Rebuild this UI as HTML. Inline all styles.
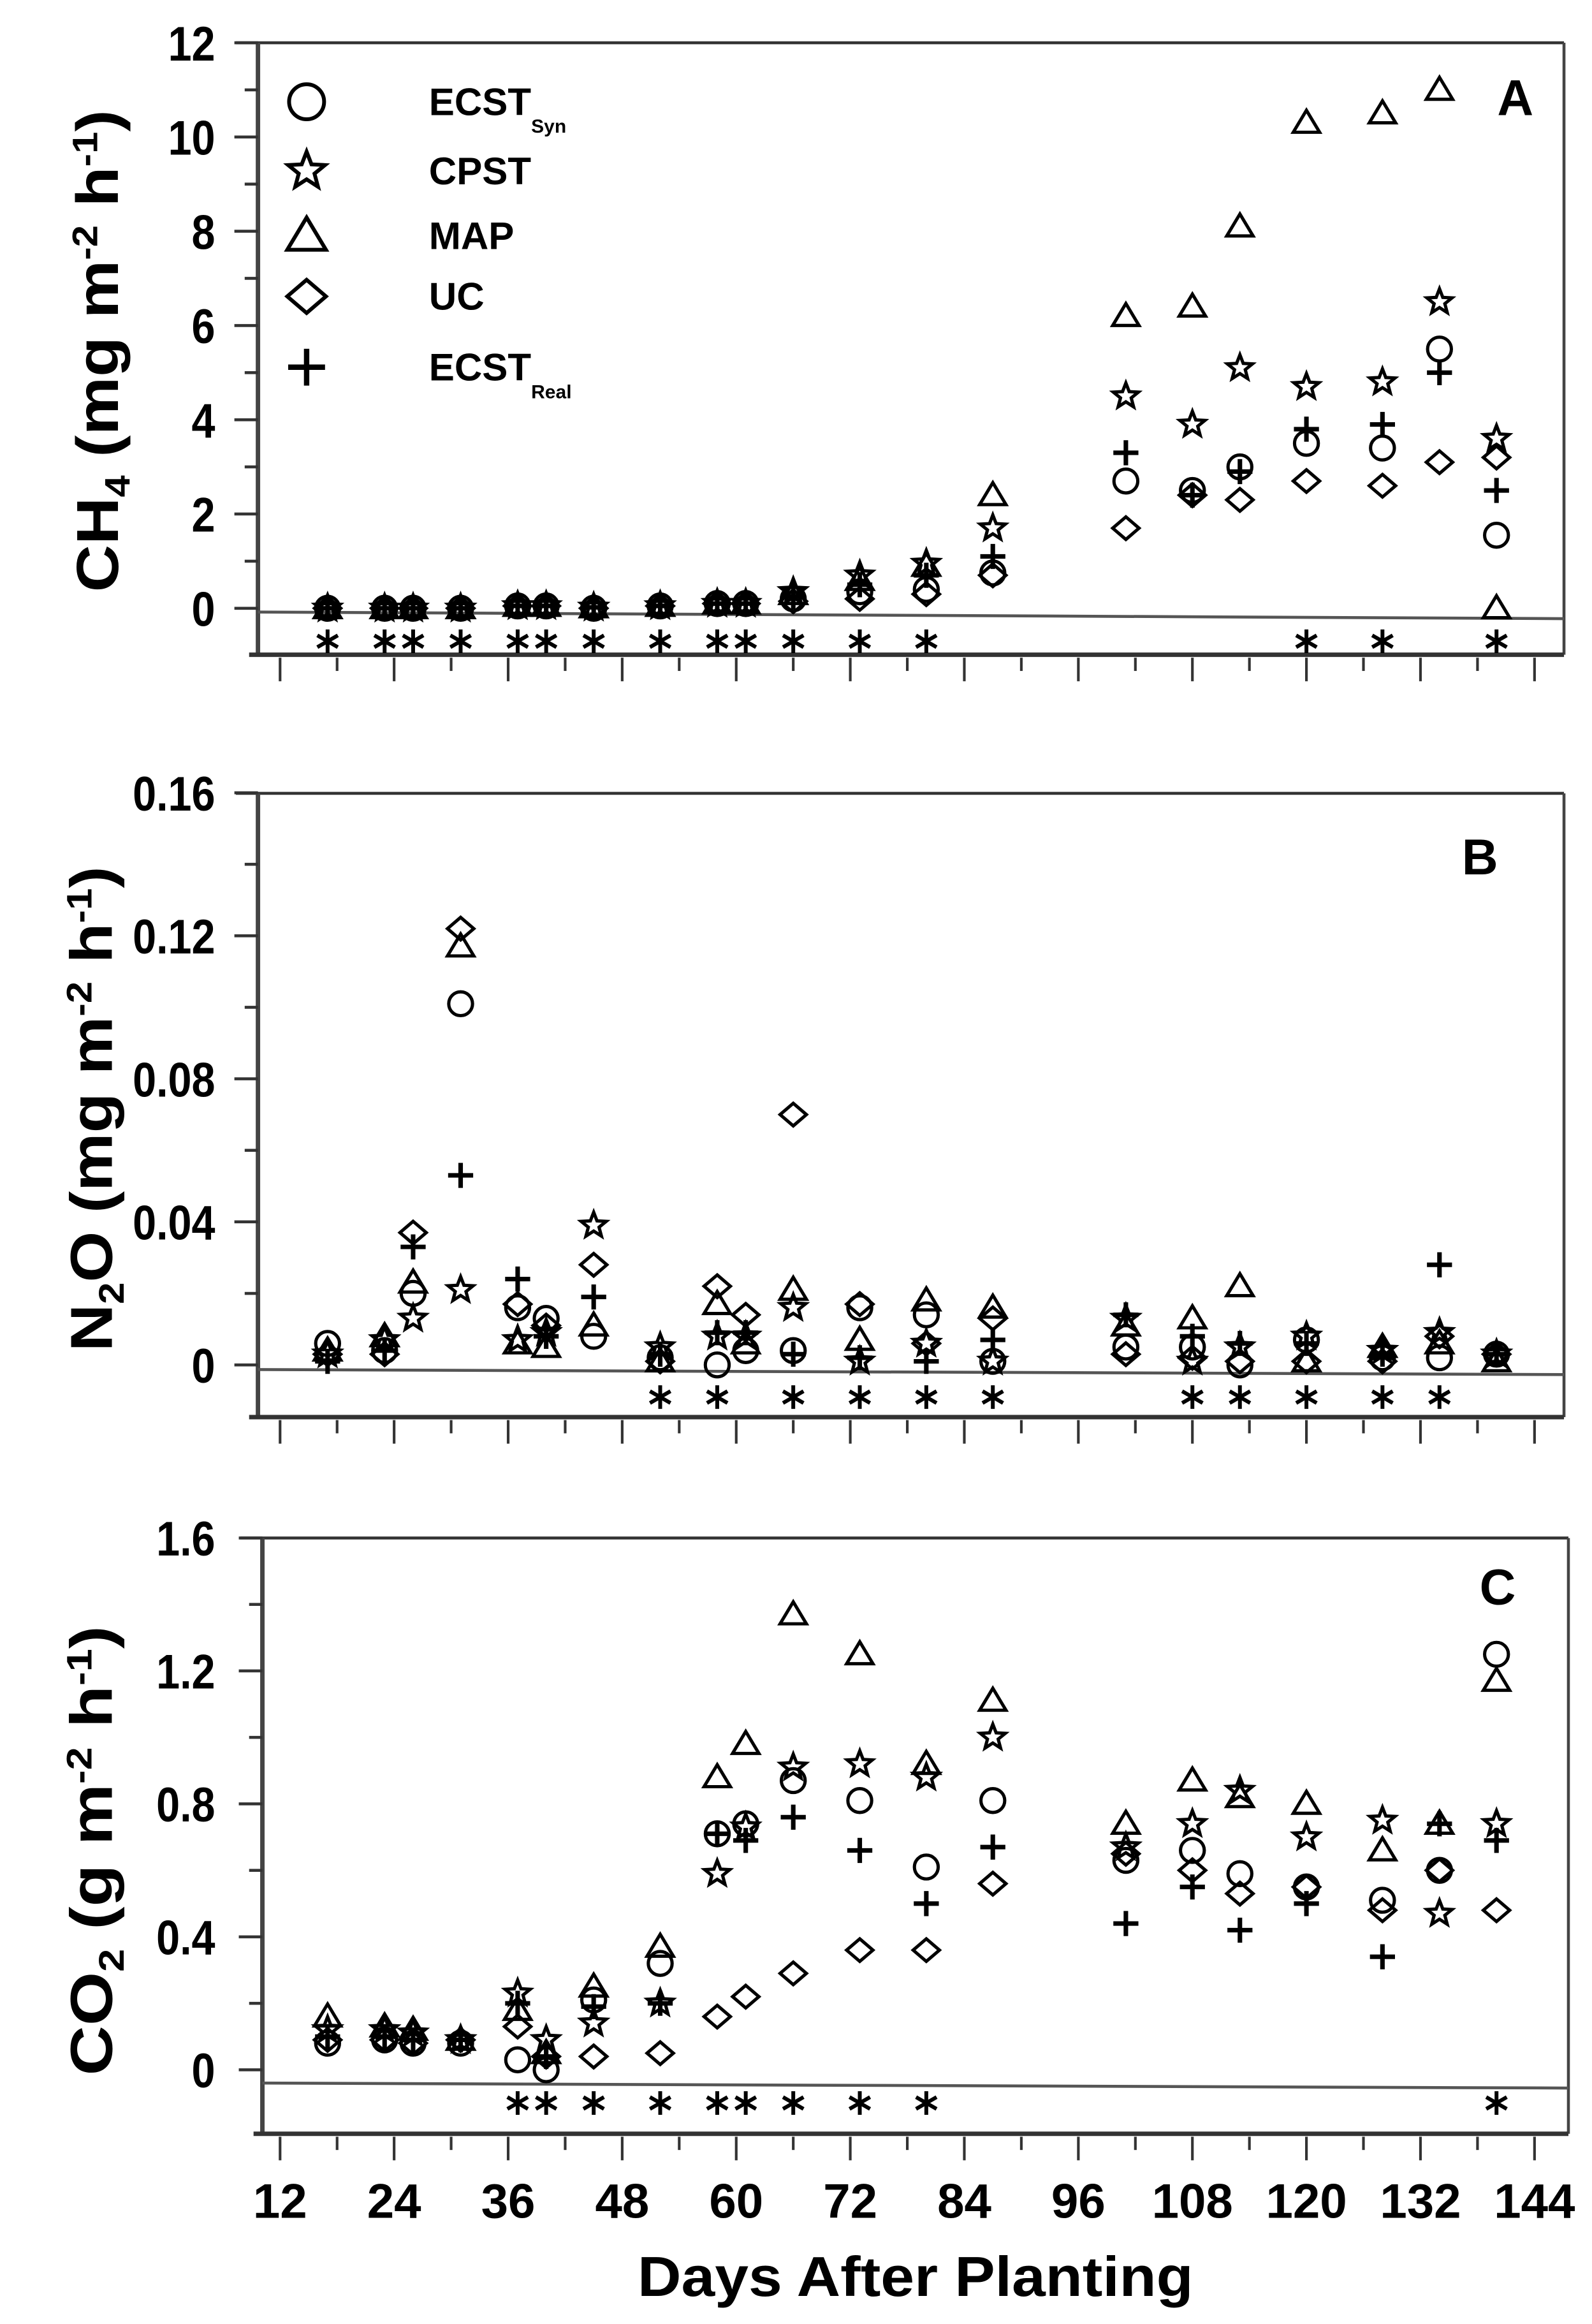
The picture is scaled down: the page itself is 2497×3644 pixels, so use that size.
<!DOCTYPE html>
<html><head><meta charset="utf-8"><title>CH4 N2O CO2 fluxes</title>
<style>
html,body{margin:0;padding:0;background:#fff;}
svg{display:block;}
text{font-family:"Liberation Sans",Arial,sans-serif;font-weight:bold;fill:#000;}
</style></head>
<body>
<svg id="chart" xmlns="http://www.w3.org/2000/svg" width="2497" height="3644" viewBox="0 0 1080 1576" preserveAspectRatio="none">
<rect x="0" y="0" width="1080" height="1576" fill="#fff"/>
<g id="frames"></g>
<g id="marks"></g>
<text x="621" y="1557" font-size="38" text-anchor="middle" textLength="377" lengthAdjust="spacingAndGlyphs">Days After Planting</text>
<text transform="translate(80,238) rotate(-90)" font-size="40" text-anchor="middle" textLength="327" lengthAdjust="spacingAndGlyphs">CH<tspan font-size="24" dy="8">4</tspan><tspan dy="-8"> (mg m</tspan><tspan font-size="24" dy="-14">-2</tspan><tspan dy="14"> h</tspan><tspan font-size="24" dy="-14">-1</tspan><tspan dy="14">)</tspan></text>
<text transform="translate(76,752) rotate(-90)" font-size="40" text-anchor="middle" textLength="329" lengthAdjust="spacingAndGlyphs">N<tspan font-size="24" dy="8">2</tspan><tspan dy="-8">O (mg m</tspan><tspan font-size="24" dy="-14">-2</tspan><tspan dy="14"> h</tspan><tspan font-size="24" dy="-14">-1</tspan><tspan dy="14">)</tspan></text>
<text transform="translate(76,1255) rotate(-90)" font-size="40" text-anchor="middle" textLength="305" lengthAdjust="spacingAndGlyphs">CO<tspan font-size="24" dy="8">2</tspan><tspan dy="-8"> (g m</tspan><tspan font-size="24" dy="-14">-2</tspan><tspan dy="14"> h</tspan><tspan font-size="24" dy="-14">-1</tspan><tspan dy="14">)</tspan></text>
<text x="1028" y="78" font-size="34" text-anchor="middle">A</text>
<text x="1004" y="593" font-size="34" text-anchor="middle">B</text>
<text x="1016" y="1088" font-size="34" text-anchor="middle">C</text>
<g id="legend"></g>
</svg>
<script>
const NS = "http://www.w3.org/2000/svg";
const days = [17,23,26,31,37,40,45,52,58,61,66,73,80,87,101,108,113,120,128,134,140];
const xTicks = [12,24,36,48,60,72,84,96,108,120,132,144];

const ch4Ecst = [0,0,0,0,0.05,0.05,0,0.05,0.1,0.1,0.2,0.35,0.4,0.75,2.7,2.5,3.0,3.5,3.4,5.5,1.55];
const ch4Cpst = [0,0,0,0,0.05,0.05,0.02,0.05,0.1,0.1,0.35,0.7,0.95,1.7,4.5,3.9,5.1,4.7,4.8,6.5,3.6];
const ch4Map  = [0,0,0,0,0.05,0.05,0.02,0.05,0.1,0.1,0.3,0.6,0.9,2.4,6.2,6.4,8.1,10.3,10.5,11.0,0];
const ch4Uc   = [0,0,0,0,0.05,0.05,0,0.05,0.1,0.1,0.15,0.2,0.3,0.7,1.7,2.4,2.3,2.7,2.6,3.1,3.2];
const ch4Real = [0,0,0,0,0.05,0.05,0.02,0.05,0.1,0.1,0.25,0.5,0.7,1.1,3.3,2.4,2.9,3.8,3.9,5.0,2.5];
const ch4Sig  = [17,23,26,31,37,40,45,52,58,61,66,73,80,120,128,140];

const n2oEcst = [0.006,0.004,0.020,0.101,0.016,0.013,0.008,0.002,0.000,0.004,0.004,0.016,0.014,0.001,0.005,0.005,0.000,0.007,0.002,0.002,0.003];
const n2oCpst = [0.003,0.007,0.013,0.021,0.007,0.009,0.039,0.005,0.008,0.008,0.016,0.001,0.006,0.001,0.013,0.001,0.005,0.008,0.004,0.009,0.003];
const n2oMap  = [0.004,0.008,0.023,0.117,0.006,0.005,0.011,0.001,0.017,0.006,0.021,0.007,0.018,0.016,0.011,0.013,0.022,0.001,0.005,0.006,0.001];
const n2oUc   = [0.003,0.003,0.037,0.122,0.017,0.011,0.028,0.001,0.022,0.014,0.070,0.017,0.006,0.013,0.003,0.002,0.001,0.001,0.001,0.008,0.003];
const n2oReal = [0.001,0.004,0.033,0.053,0.024,0.008,0.019,0.003,0.009,0.009,0.003,0.002,0.001,0.007,0.014,0.008,0.006,0.006,0.003,0.028,0.003];
const n2oSig  = [52,58,66,73,80,87,108,113,120,128,134];

const co2Ecst = [0.08,0.09,0.08,0.08,0.03,0.00,0.21,0.32,0.71,0.74,0.87,0.81,0.61,0.81,0.63,0.66,0.59,0.55,0.51,0.60,1.25];
const co2Cpst = [0.12,0.12,0.11,0.09,0.23,0.09,0.14,0.20,0.59,0.73,0.91,0.92,0.88,1.00,0.67,0.74,0.84,0.70,0.75,0.47,0.74];
const co2Map  = [0.16,0.13,0.12,0.09,0.18,0.05,0.25,0.37,0.88,0.98,1.37,1.25,0.92,1.11,0.74,0.87,0.82,0.80,0.66,0.74,1.17];
const co2Uc   = [0.09,0.09,0.08,0.09,0.13,0.04,0.04,0.05,0.16,0.22,0.29,0.36,0.36,0.56,0.65,0.60,0.53,0.55,0.48,0.60,0.48];
const co2Real = [0.10,0.10,0.09,0.09,0.20,0.04,0.19,0.20,0.71,0.69,0.76,0.66,0.50,0.67,0.44,0.55,0.42,0.50,0.34,0.74,0.69];
const co2Sig  = [37,40,45,52,58,61,66,73,80,140];

const ch4Ticks = [0,2,4,6,8,10,12];
const ch4TickLabels = ["0","2","4","6","8","10","12"];
const n2oTicks = [0,0.04,0.08,0.12,0.16];
const n2oTickLabels = ["0","0.04","0.08","0.12","0.16"];
const co2Ticks = [0,0.4,0.8,1.2,1.6];
const co2TickLabels = ["0","0.4","0.8","1.2","1.6"];

const svg = document.getElementById('chart');
const frames = document.getElementById('frames');
const marks = document.getElementById('marks');

function xScale(d){ return 190 + (d - 12) * 6.447; }
function mk(tag, attrs, parent){
  const e = document.createElementNS(NS, tag);
  for (const k in attrs) e.setAttribute(k, attrs[k]);
  parent.appendChild(e);
  return e;
}

function drawMarker(type, cx, cy, s, parent){
  let e;
  const sw = s > 10 ? 2.6 : 2.2;
  if (type === 'circle') {
    e = mk('circle', {cx:cx, cy:cy, r:s*0.95, fill:'none', stroke:'#000', 'stroke-width':sw}, parent);
  } else if (type === 'star') {
    let p = [];
    for (let i = 0; i < 10; i++) {
      const a = -Math.PI/2 + i*Math.PI/5;
      const r = (i % 2 === 0) ? s*1.05 : s*0.45;
      p.push((cx + r*Math.cos(a)).toFixed(2) + ',' + (cy + r*Math.sin(a)).toFixed(2));
    }
    e = mk('polygon', {points:p.join(' '), fill:'none', stroke:'#000', 'stroke-width':sw, 'stroke-linejoin':'miter'}, parent);
  } else if (type === 'triangle') {
    const h = s*1.0;
    e = mk('polygon', {points:`${cx},${cy-h} ${cx+s*1.05},${cy+h*0.75} ${cx-s*1.05},${cy+h*0.75}`, fill:'none', stroke:'#000', 'stroke-width':sw}, parent);
  } else if (type === 'diamond') {
    e = mk('polygon', {points:`${cx},${cy-s*0.9} ${cx+s*1.05},${cy} ${cx},${cy+s*0.9} ${cx-s*1.05},${cy}`, fill:'none', stroke:'#000', 'stroke-width':sw}, parent);
  } else if (type === 'plus') {
    e = mk('path', {d:`M${cx-s},${cy} H${cx+s} M${cx},${cy-s} V${cy+s}`, fill:'none', stroke:'#000', 'stroke-width':sw*1.4}, parent);
  }
  return e;
}

function drawAsterisk(cx, cy, parent){
  const g = mk('g', {}, parent);
  const L = 8;
  mk('line', {x1:cx, y1:cy-L, x2:cx, y2:cy+L, stroke:'#000', 'stroke-width':2.6}, g);
  mk('line', {x1:cx-L*0.87, y1:cy-L*0.5, x2:cx+L*0.87, y2:cy+L*0.5, stroke:'#000', 'stroke-width':2.6}, g);
  mk('line', {x1:cx-L*0.87, y1:cy+L*0.5, x2:cx+L*0.87, y2:cy-L*0.5, stroke:'#000', 'stroke-width':2.6}, g);
  return g;
}

const panels = [
  {id:'ch4', top:29, y0:412.5, pxPerUnit:31.96, bottom:444, left:175, right:1061, ticks:ch4Ticks, labels:ch4TickLabels, minorStep:1, maxV:12,
   series:[ch4Ecst,ch4Cpst,ch4Map,ch4Uc,ch4Real], sig:ch4Sig, sigV:-0.7, zeroA:-0.08, zeroB:-0.22},
  {id:'n2o', top:538, y0:925.6, pxPerUnit:2425, bottom:961, left:175, right:1061, ticks:n2oTicks, labels:n2oTickLabels, minorStep:0.02, maxV:0.16,
   series:[n2oEcst,n2oCpst,n2oMap,n2oUc,n2oReal], sig:n2oSig, sigV:-0.009, zeroA:-0.0013, zeroB:-0.0027},
  {id:'co2', top:1043, y0:1403.6, pxPerUnit:225.4, bottom:1447, left:178, right:1064, ticks:co2Ticks, labels:co2TickLabels, minorStep:0.2, maxV:1.6,
   series:[co2Ecst,co2Cpst,co2Map,co2Uc,co2Real], sig:co2Sig, sigV:-0.1, zeroA:-0.04, zeroB:-0.055}
];
const types = ['circle','star','triangle','diamond','plus'];
const seriesNames = ['ecst-syn','cpst','map','uc','ecst-real'];

panels.forEach(function(P){
  const yS = v => P.y0 - v*P.pxPerUnit;
  const g = mk('g', {}, frames);
  
  
  const top = mk('line', {x1:P.left-15, y1:P.top, x2:P.right, y2:P.top, stroke:'#333', 'stroke-width':2}, g);
  
  
  const rgt = mk('line', {x1:P.right, y1:P.top, x2:P.right, y2:P.bottom, stroke:'#444', 'stroke-width':2}, g);
  
  
  const yAx = mk('line', {x1:P.left, y1:P.top, x2:P.left, y2:P.bottom, stroke:'#444', 'stroke-width':3}, g);
  
  
  const xAx = mk('line', {x1:P.left-6, y1:P.bottom, x2:P.right, y2:P.bottom, stroke:'#333', 'stroke-width':3}, g);
  
  
  const z = mk('line', {x1:P.left, y1:yS(P.zeroA), x2:P.right, y2:yS(P.zeroB), stroke:'#555', 'stroke-width':2}, g);
  
  
  for (let v = 0; v <= P.maxV + 1e-9; v += P.minorStep) {
    const isMajor = P.ticks.some(t => Math.abs(t - v) < 1e-9);
    const t = mk('line', {x1:P.left-(isMajor?16:9), y1:yS(v), x2:P.left, y2:yS(v), stroke:'#333', 'stroke-width':2}, g);
    
    
  }
  P.ticks.forEach(function(v, i){
    const lab = P.labels[i];
    const w = lab.replace('.', '').length * 16 + (lab.indexOf('.') >= 0 ? 8 : 0);
    const tl = mk('text', {x:146, y:yS(v)+12, 'font-size':33, 'text-anchor':'end', textLength:w, lengthAdjust:'spacingAndGlyphs'}, g);
    tl.textContent = lab;
    
    
  });
  for (let d = 12; d <= 144; d += 6) {
    const isMajor = (d % 12 === 0);
    const t = mk('line', {x1:xScale(d), y1:P.bottom+2, x2:xScale(d), y2:P.bottom+(isMajor?18:11), stroke:'#333', 'stroke-width':1.8}, g);
    
    
  }
  P.series.forEach(function(arr, si){
    const sg = mk('g', {}, marks);
    
    
    arr.forEach(function(v, i){
      const m = drawMarker(types[si], xScale(days[i]), yS(v), 8.5, sg);
      
      
    });
  });
  const ag = mk('g', {}, marks);
  
  
  P.sig.forEach(function(d){
    const a = drawAsterisk(xScale(d), yS(P.sigV), ag);
    
    
  });
});

xTicks.forEach(function(d){
  const t = mk('text', {x:xScale(d), y:1504, 'font-size':33, 'text-anchor':'middle'}, svg);
  t.textContent = String(d);
  
  
});

const legend = document.getElementById('legend');
const legendRows = [
  {type:'circle', main:'ECST', sub:'Syn', y:69},
  {type:'star', main:'CPST', sub:'', y:116},
  {type:'triangle', main:'MAP', sub:'', y:160},
  {type:'diamond', main:'UC', sub:'', y:201},
  {type:'plus', main:'ECST', sub:'Real', y:249}
];
legendRows.forEach(function(r){
  const g = mk('g', {}, legend);
  
  
  drawMarker(r.type, 208, r.y, 12.5, g);
  const t = mk('text', {x:291, y:r.y+9, 'font-size':26}, g);
  t.textContent = r.main;
  if (r.sub) {
    const s = mk('tspan', {'font-size':13, dy:12}, t);
    s.textContent = r.sub;
  }
});
</script>
</body></html>
